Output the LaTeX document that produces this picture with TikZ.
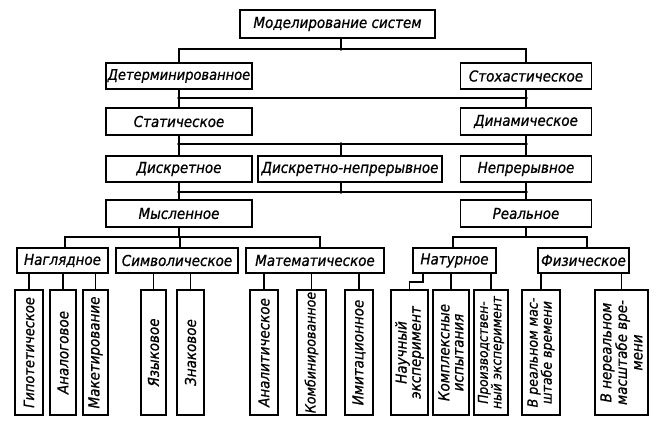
\documentclass[tikz,border=0pt]{standalone}
\usepackage{fontspec}
\setmainfont{DejaVu Sans Condensed Oblique}[FakeBold=0.8]
\newcommand{\dfont}{\fontsize{15}{14}\selectfont}
\begin{document}
\begin{tikzpicture}[x=1pt,y=-1pt,
  box/.style={draw,line width=1.7pt,inner sep=0pt,minimum height=26pt,font=\dfont},
  leaf/.style={draw,line width=1.7pt,inner sep=0pt,minimum height=125pt},
  ltext/.style={rotate=90,align=center,inner sep=0pt,font=\dfont},
  con/.style={line width=1.1pt},
  dot/.style={circle,fill,inner sep=0pt,minimum size=3.8pt}]
\fill[white] (0,0) rectangle (669,433);
\useasboundingbox (0,0) rectangle (669,433);

% upper levels
\node[box,minimum width=195pt,minimum height=28pt] (top) at (337.5,24) {Моделирование систем};
\node[box,minimum width=146pt] (det) at (179,76) {\fontsize{14.5}{14}\selectfont Детерминированное};
\node[box,minimum width=131pt] (sto) at (526,76) {Стохастическое};
\node[box,minimum width=146pt,minimum height=27pt] (stat) at (179,121.5) {Статическое};
\node[box,minimum width=131pt,minimum height=27pt] (din) at (526,121.5) {Динамическое};
\node[box,minimum width=146pt] (disk) at (179,169) {Дискретное};
\node[box,minimum width=184pt] (dn) at (350,169) {Дискретно-непрерывное};
\node[box,minimum width=131pt] (nepr) at (526,169) {Непрерывное};
\node[box,minimum width=146pt,minimum height=27pt] (mys) at (179,213.5) {Мысленное};
\node[box,minimum width=131pt,minimum height=27pt] (real) at (526,213.5) {Реальное};

% group level
\node[box,minimum width=91pt,minimum height=25pt] (nag) at (62.5,260.5) {Наглядное};
\node[box,minimum width=122pt,minimum height=25pt] (sim) at (177,260.5) {Символическое};
\node[box,minimum width=138pt,minimum height=25pt] (mat) at (315,260.5) {Математическое};
\node[box,minimum width=83pt,minimum height=25pt] (nat) at (454.5,260.5) {Натурное};
\node[box,minimum width=91pt,minimum height=25pt] (fiz) at (583.5,260.5) {Физическое};

% leaves
\node[leaf,minimum width=28pt] (gip) at (29,352.5) {};
\node[ltext,font=\fontsize{14.5}{14}\selectfont] (gipt) at (gip) {Гипотетическое};
\node[leaf,minimum width=26pt] (ana) at (63,352.5) {};
\node[ltext] (anat) at (ana) {Аналоговое};
\node[leaf,minimum width=25pt] (mak) at (95.5,352.5) {};
\node[ltext] (makt) at (mak) {Макетирование};
\node[leaf,minimum width=25pt] (yaz) at (153.5,352.5) {};
\node[ltext] (yazt) at (yaz) {Языковое};
\node[leaf,minimum width=27pt] (zna) at (190.5,352.5) {};
\node[ltext] (znat) at (zna) {Знаковое};
\node[leaf,minimum width=28pt] (anl) at (264,352.5) {};
\node[ltext] (anlt) at (anl) {Аналитическое};
\node[leaf,minimum width=29pt] (kom) at (311.5,352.5) {};
\node[ltext,font=\fontsize{14}{14}\selectfont] (komt) at (kom) {Комбинированное};
\node[leaf,minimum width=28pt] (imi) at (359,352.5) {};
\node[ltext] (imit) at (imi) {Имитационное};
\node[leaf,minimum width=37pt] (nau) at (409.5,352.5) {};
\node[ltext] (naut) at (nau) {Научный\\эксперимент};
\node[leaf,minimum width=36pt] (kmp) at (451,352.5) {};
\node[ltext] (kmpt) at (kmp) {Комплексные\\испытания};
\node[leaf,minimum width=34pt] (pro) at (491,352.5) {};
\node[ltext,font=\fontsize{13.5}{13.5}\selectfont] (prot) at (pro) {Производствен-\\ный эксперимент};
\node[leaf,minimum width=38pt] (vre) at (541,352.5) {};
\node[ltext,font=\fontsize{14}{14}\selectfont] (vret) at (vre) {В реальном мас-\\штабе времени};
\node[leaf,minimum width=53pt] (vne) at (621.5,352.5) {};
\node[ltext,font=\fontsize{15}{15.5}\selectfont] (vnet) at (vne) {В нереальном\\масштабе вре-\\мени};

% buses
\coordinate (b1) at (341,49);
\coordinate (b2) at (341,98);
\coordinate (b3) at (341,144);
\coordinate (b4) at (341,192);
\draw[con] (b1 |- top.south) -- (b1);
\draw[con] (det.north) -- (det.north |- b1) -- (sto.north |- b1) -- (sto.north);
\node[dot] (d1) at (b1) {};

\draw[con] (det.south) -- (stat.north);
\draw[con] (sto.south) -- (din.north);
\draw[con] (det.south |- b2) -- (sto.south |- b2);
\node[dot] (d2a) at (det.south |- b2) {};
\node[dot] (d2b) at (sto.south |- b2) {};

\draw[con] (stat.south) -- (disk.north);
\draw[con] (din.south) -- (nepr.north);
\draw[con] (stat.south |- b3) -- (din.south |- b3);
\draw[con] (b3) -- (b3 |- dn.north);
\node[dot] (d3a) at (stat.south |- b3) {};
\node[dot] (d3b) at (b3) {};
\node[dot] (d3c) at (din.south |- b3) {};

\draw[con] (disk.south) -- (mys.north);
\draw[con] (nepr.south) -- (real.north);
\draw[con] (disk.south |- b4) -- (nepr.south |- b4);
\draw[con] (b4 |- dn.south) -- (b4);
\node[dot] (d4a) at (disk.south |- b4) {};
\node[dot] (d4b) at (b4) {};
\node[dot] (d4c) at (nepr.south |- b4) {};

% lower left bus
\coordinate (s1) at (65,237);
\coordinate (s2) at (180,237);
\coordinate (s3) at (320,237);
\draw[con] (mys.south) -- (mys.south |- s1);
\draw[con] (s1 |- nag.north) -- (s1) -- (s3) -- (s3 |- mat.north);
\draw[con] (s2) -- (s2 |- sim.north);
% lower right bus
\coordinate (r1) at (453,237);
\coordinate (r2) at (587,237);
\draw[con] (real.south) -- (real.south |- r1);
\draw[con] (r1 |- nat.north) -- (r1) -- (r2) -- (r2 |- fiz.north);

% leaf stems
\draw[con] (gip.north) -- (gip.north |- nag.south);
\draw[con] (ana.north) -- (ana.north |- nag.south);
\draw[con] (mak.north) -- (mak.north |- nag.south);
\draw[con] (yaz.north) -- (yaz.north |- sim.south);
\draw[con] (zna.north) -- (zna.north |- sim.south);
\draw[con] (anl.north) -- (anl.north |- mat.south);
\draw[con] (kom.north) -- (kom.north |- mat.south);
\draw[con] (imi.north) -- (imi.north |- mat.south);
\coordinate (e1) at (423,282);
\draw[con] (e1 |- nat.south) -- (e1) -| (nau.north);
\draw[con] (kmp.north) -- (kmp.north |- nat.south);
\draw[con] (pro.north) -- (pro.north |- nat.south);
\draw[con] (vre.north) -- (vre.north |- fiz.south);
\draw[con] (vne.north) -- (vne.north |- fiz.south);
\end{tikzpicture}
\end{document}
